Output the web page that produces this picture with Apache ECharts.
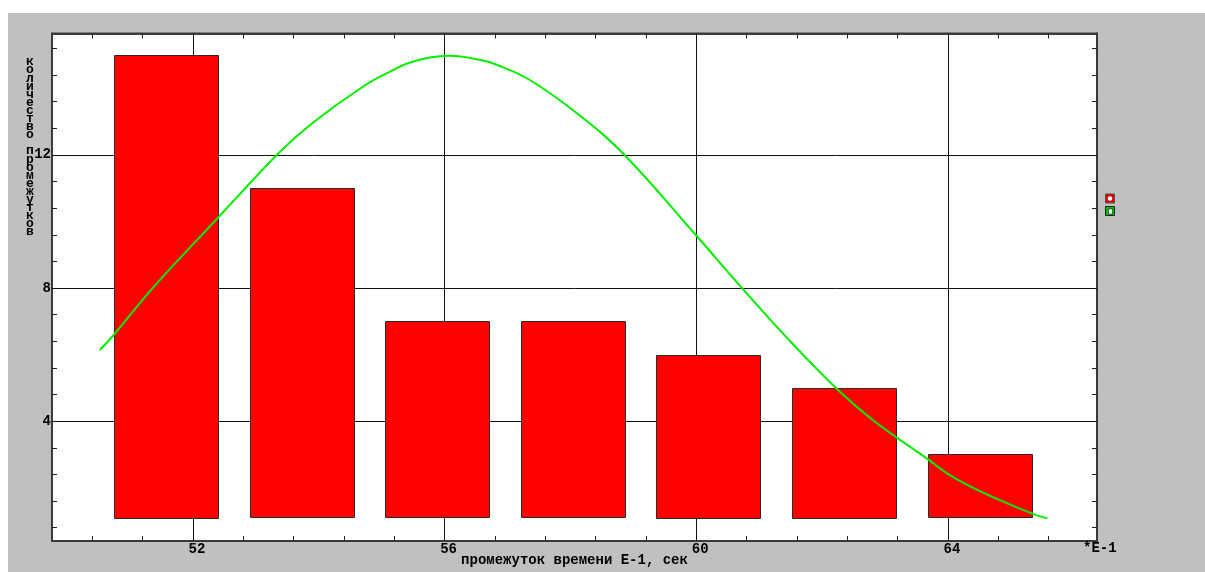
<!DOCTYPE html>
<html><head><meta charset="utf-8">
<script src="https://cdn.jsdelivr.net/npm/echarts@6/dist/echarts.min.js"></script>
<style>
html,body{margin:0;padding:0;background:#fff;width:1205px;height:572px;overflow:hidden}
#c{position:absolute;left:8px;top:13px;width:1197px;height:559px}
</style>
</head><body><div id="c"></div>
<script>
// ---- data ----
const binCenters = [51.57, 53.73, 55.88, 58.04, 60.19, 62.35, 64.51];
const counts = [15, 11, 7, 7, 6, 5, 3];
const curveX = [50.52, 50.74, 51.36, 52.39, 52.66, 53.38, 53.90, 54.70, 55.13, 55.49, 56.08, 56.56, 56.83, 57.35, 58.14, 58.86, 60.00, 60.70, 61.48, 62.28, 62.83, 63.68, 64.03, 64.55, 65.33, 65.58];
const curveY = [6.14, 6.59, 8.00, 10.10, 10.65, 12.09, 12.96, 14.05, 14.50, 14.80, 14.98, 14.86, 14.71, 14.26, 13.20, 12.00, 9.58, 8.06, 6.43, 4.89, 4.00, 2.86, 2.38, 1.86, 1.23, 1.08];
const xTickLabels = [52, 56, 60, 64];
const yTickLabels = [4, 8, 12];
const xAxisTitle = 'промежуток времени E-1, сек';
const yAxisTitle = 'количество промежутков';
const xScaleNote = '*E-1';

// ---- layout / scale settings ----
const X_MIN = 49.76, X_MAX = 66.37;
const Y_MIN = 0.40, Y_MAX = 15.65;
const BAR_W = 1.653, BAR_BASE = 1.1;
const MINOR = 0.8;
const minorX = [];
for (let k = Math.ceil(X_MIN / MINOR); k * MINOR < X_MAX - 0.01; k++) minorX.push(Math.round(k * MINOR * 100) / 100);
const minorY = [];
for (let k = Math.ceil(Y_MIN / MINOR); k * MINOR < Y_MAX - 0.01; k++) minorY.push(Math.round(k * MINOR * 100) / 100);

const MONO = "'Liberation Mono', 'DejaVu Sans Mono', monospace";
const labelStyle = { color: '#000', fontFamily: MONO, fontSize: 14, fontWeight: 'bold' };

const chart = echarts.init(document.getElementById('c'), null, { renderer: 'canvas' });

const tickCommon = { show: true, inside: true, length: 5, lineStyle: { color: '#222', width: 1 } };
const lineCommon = { show: true, onZero: false, lineStyle: { color: '#3a3a3a', width: 2 } };

const option = {
  animation: false,
  backgroundColor: '#c0c0c0',
  grid: { left: 44, top: 20.5, right: 108, bottom: 31, containLabel: false, outerBoundsMode: 'none', show: true, backgroundColor: '#ffffff', borderColor: '#3a3a3a', borderWidth: 2 },
  xAxis: [
    {
      type: 'value', position: 'bottom', min: X_MIN, max: X_MAX,
      axisLine: lineCommon,
      axisTick: Object.assign({ customValues: minorX }, tickCommon),
      axisLabel: Object.assign({ customValues: xTickLabels, margin: 1, padding: [0, 0, 0, 8] }, labelStyle),
      splitLine: { show: false },
      name: xAxisTitle, nameLocation: 'middle', nameGap: 19, nameMoveOverlap: false,
      nameTextStyle: { color: '#000', fontFamily: MONO, fontSize: 14, fontWeight: 'bold', verticalAlign: 'middle' }
    },
    {
      type: 'value', position: 'top', min: X_MIN, max: X_MAX,
      axisLine: lineCommon,
      axisTick: Object.assign({ customValues: minorX }, tickCommon),
      axisLabel: { show: false }, splitLine: { show: false }
    }
  ],
  yAxis: [
    {
      type: 'value', position: 'left', min: Y_MIN, max: Y_MAX,
      axisLine: lineCommon,
      axisTick: Object.assign({ customValues: minorY }, tickCommon),
      axisLabel: Object.assign({ customValues: yTickLabels, margin: 1, padding: [6, 0, 0, 0] }, labelStyle),
      splitLine: { show: false }
    },
    {
      type: 'value', position: 'right', min: Y_MIN, max: Y_MAX,
      axisLine: lineCommon,
      axisTick: Object.assign({ customValues: minorY }, tickCommon),
      axisLabel: { show: false }, splitLine: { show: false }
    }
  ],
  series: [
    {
      type: 'custom', name: 'count', z: 2,
      xAxisIndex: 0, yAxisIndex: 0,
      data: binCenters.map((c, i) => [c, counts[i]]),
      renderItem: function (params, api) {
        const c = api.value(0), v = api.value(1);
        const p1 = api.coord([c - BAR_W / 2, v]);
        const p2 = api.coord([c + BAR_W / 2, BAR_BASE]);
        return {
          type: 'rect',
          shape: { x: Math.round(p1[0]) + 0.5, y: Math.round(p1[1]) + 0.5, width: Math.round(p2[0] - p1[0]), height: Math.round(p2[1] - p1[1]) },
          style: { fill: '#ff0000', stroke: '#2a2a2a', lineWidth: 1 }
        };
      },
      markLine: {
        z: 1, silent: true, symbol: ['none', 'none'], animation: false,
        label: { show: false },
        lineStyle: { color: '#111', width: 1, type: 'solid' },
        emphasis: { disabled: true },
        data: xTickLabels.map(v => ({ xAxis: v })).concat(yTickLabels.map(v => ({ yAxis: v })))
      }
    },
    {
      type: 'line', name: 'fit', z: 3,
      xAxisIndex: 0, yAxisIndex: 0,
      data: curveX.map((x, i) => [x, curveY[i]]),
      smooth: 0.4, showSymbol: false, symbol: 'none',
      lineStyle: { color: '#00f000', width: 2 }
    }
  ],
  graphic: [
    {
      type: 'text', x: 22, y: 45, z: 10,
      style: {
        text: yAxisTitle.split('').join('\n'),
        fill: '#000', font: "bold 13px 'Liberation Mono', monospace",
        lineHeight: 8.1, align: 'center', verticalAlign: 'top'
      }
    },
    {
      type: 'text', x: 1075, y: 535, z: 10,
      style: { text: xScaleNote, fill: '#000', font: "bold 14px 'Liberation Mono', monospace", align: 'left', verticalAlign: 'middle' }
    },
    {
      type: 'group', x: 1097.5, y: 181, z: 10,
      children: [
        { type: 'rect', shape: { x: 0, y: 0, width: 9, height: 9 }, style: { fill: '#e00000', stroke: '#555', lineWidth: 1 } },
        { type: 'circle', shape: { cx: 4.5, cy: 4.5, r: 2.3 }, style: { fill: '#ffffff' } },
        { type: 'rect', shape: { x: 0, y: 12.5, width: 9, height: 9 }, style: { fill: '#00c000', stroke: '#222', lineWidth: 1 } },
        { type: 'rect', shape: { x: 3, y: 15, width: 4, height: 5 }, style: { fill: '#ffffff', stroke: '#000', lineWidth: 0.5 } }
      ]
    }
  ]
};
chart.setOption(option);
</script>
</body></html>
